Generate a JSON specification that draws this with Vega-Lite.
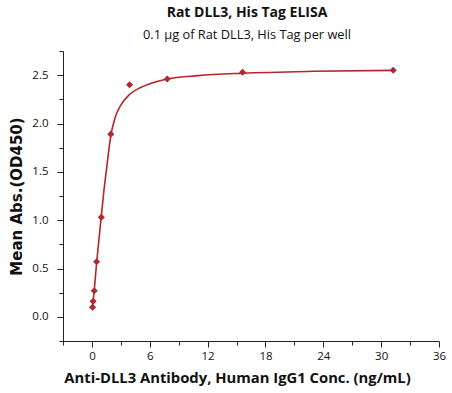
{
  "$schema": "https://vega.github.io/schema/vega-lite/v6.json",
  "autosize": "none",
  "width": 376,
  "height": 290,
  "padding": {"left": 63, "top": 51, "right": 13, "bottom": 52},
  "background": "white",
  "title": {
    "text": "Rat DLL3, His Tag ELISA",
    "subtitle": "0.1 µg of Rat DLL3, His Tag per well",
    "font": "Open Sans",
    "fontSize": 14,
    "fontWeight": "bold",
    "color": "#111",
    "subtitleFont": "Open Sans",
    "subtitleFontSize": 12.8,
    "subtitleColor": "#111",
    "subtitlePadding": 9,
    "anchor": "middle",
    "offset": 3,
    "dx": -4
  },
  "config": {
    "view": {"stroke": null},
    "axis": {"grid": false}
  },
  "datasets": {
    "points": [
      {"conc": 31.25, "od": 2.55},
      {"conc": 15.625, "od": 2.53},
      {"conc": 7.8125, "od": 2.46},
      {"conc": 3.906, "od": 2.40},
      {"conc": 1.953, "od": 1.89},
      {"conc": 0.977, "od": 1.03},
      {"conc": 0.488, "od": 0.57},
      {"conc": 0.244, "od": 0.27},
      {"conc": 0.122, "od": 0.16},
      {"conc": 0.061, "od": 0.10}
    ],
    "curve": [
      {"conc": 0.061, "od": 0.10},
      {"conc": 0.122, "od": 0.16},
      {"conc": 0.244, "od": 0.28},
      {"conc": 0.488, "od": 0.56},
      {"conc": 0.75, "od": 0.82},
      {"conc": 0.977, "od": 1.05},
      {"conc": 1.25, "od": 1.31},
      {"conc": 1.55, "od": 1.56},
      {"conc": 1.95, "od": 1.87},
      {"conc": 2.4, "od": 2.06},
      {"conc": 3.0, "od": 2.19},
      {"conc": 3.9, "od": 2.30},
      {"conc": 5.0, "od": 2.37},
      {"conc": 6.0, "od": 2.41},
      {"conc": 7.8, "od": 2.46},
      {"conc": 11.0, "od": 2.495},
      {"conc": 15.6, "od": 2.52},
      {"conc": 23.0, "od": 2.54},
      {"conc": 31.25, "od": 2.55}
    ]
  },
  "encoding": {
    "x": {
      "field": "conc",
      "type": "quantitative",
      "scale": {"domain": [-3, 36], "nice": false, "zero": false},
      "axis": {
        "title": "Anti-DLL3 Antibody, Human IgG1 Conc. (ng/mL)",
        "titleFont": "Open Sans",
        "titleFontSize": 14.8,
        "titleFontWeight": "bold",
        "titleColor": "#111",
        "titlePadding": 9,
        "titleX": 174,
        "titleAnchor": "middle",
        "values": [-3, 0, 3, 6, 9, 12, 15, 18, 21, 24, 27, 30, 33, 36],
        "labelExpr": "datum.value % 6 === 0 ? format(datum.value, 'd') : ''",
        "labelOverlap": false,
        "labelFont": "Open Sans",
        "labelFontSize": 11.5,
        "labelColor": "#111",
        "labelPadding": 3,
        "tickSize": {"condition": {"test": "datum.value % 6 === 0", "value": 6}, "value": 4},
        "tickColor": "#222",
        "domainColor": "#222",
        "labelFlush": false
      }
    },
    "y": {
      "field": "od",
      "type": "quantitative",
      "scale": {"domain": [-0.25, 2.75], "nice": false, "zero": false},
      "axis": {
        "title": "Mean Abs.(OD450)",
        "titleFont": "DejaVu Sans",
        "titleFontSize": 15,
        "titleFontWeight": "bold",
        "titleColor": "#111",
        "titlePadding": 7,
        "values": [-0.25, 0, 0.25, 0.5, 0.75, 1, 1.25, 1.5, 1.75, 2, 2.25, 2.5, 2.75],
        "labelExpr": "(datum.value % 0.5 === 0 && datum.value >= 0 && datum.value <= 2.5) ? format(datum.value, '.1f') : ''",
        "labelOverlap": false,
        "labelFont": "Open Sans",
        "labelFontSize": 11.5,
        "labelColor": "#111",
        "labelPadding": 9,
        "tickSize": {"condition": {"test": "datum.value % 0.5 === 0", "value": 6}, "value": 4},
        "tickColor": "#222",
        "domainColor": "#222",
        "labelFlush": false
      }
    }
  },
  "layer": [
    {
      "data": {"name": "curve"},
      "mark": {"type": "line", "interpolate": "monotone", "color": "#b3262c", "strokeWidth": 1.6}
    },
    {
      "data": {"name": "points"},
      "mark": {"type": "point", "shape": "diamond", "filled": true, "size": 50, "color": "#b3262c", "opacity": 1}
    }
  ]
}
